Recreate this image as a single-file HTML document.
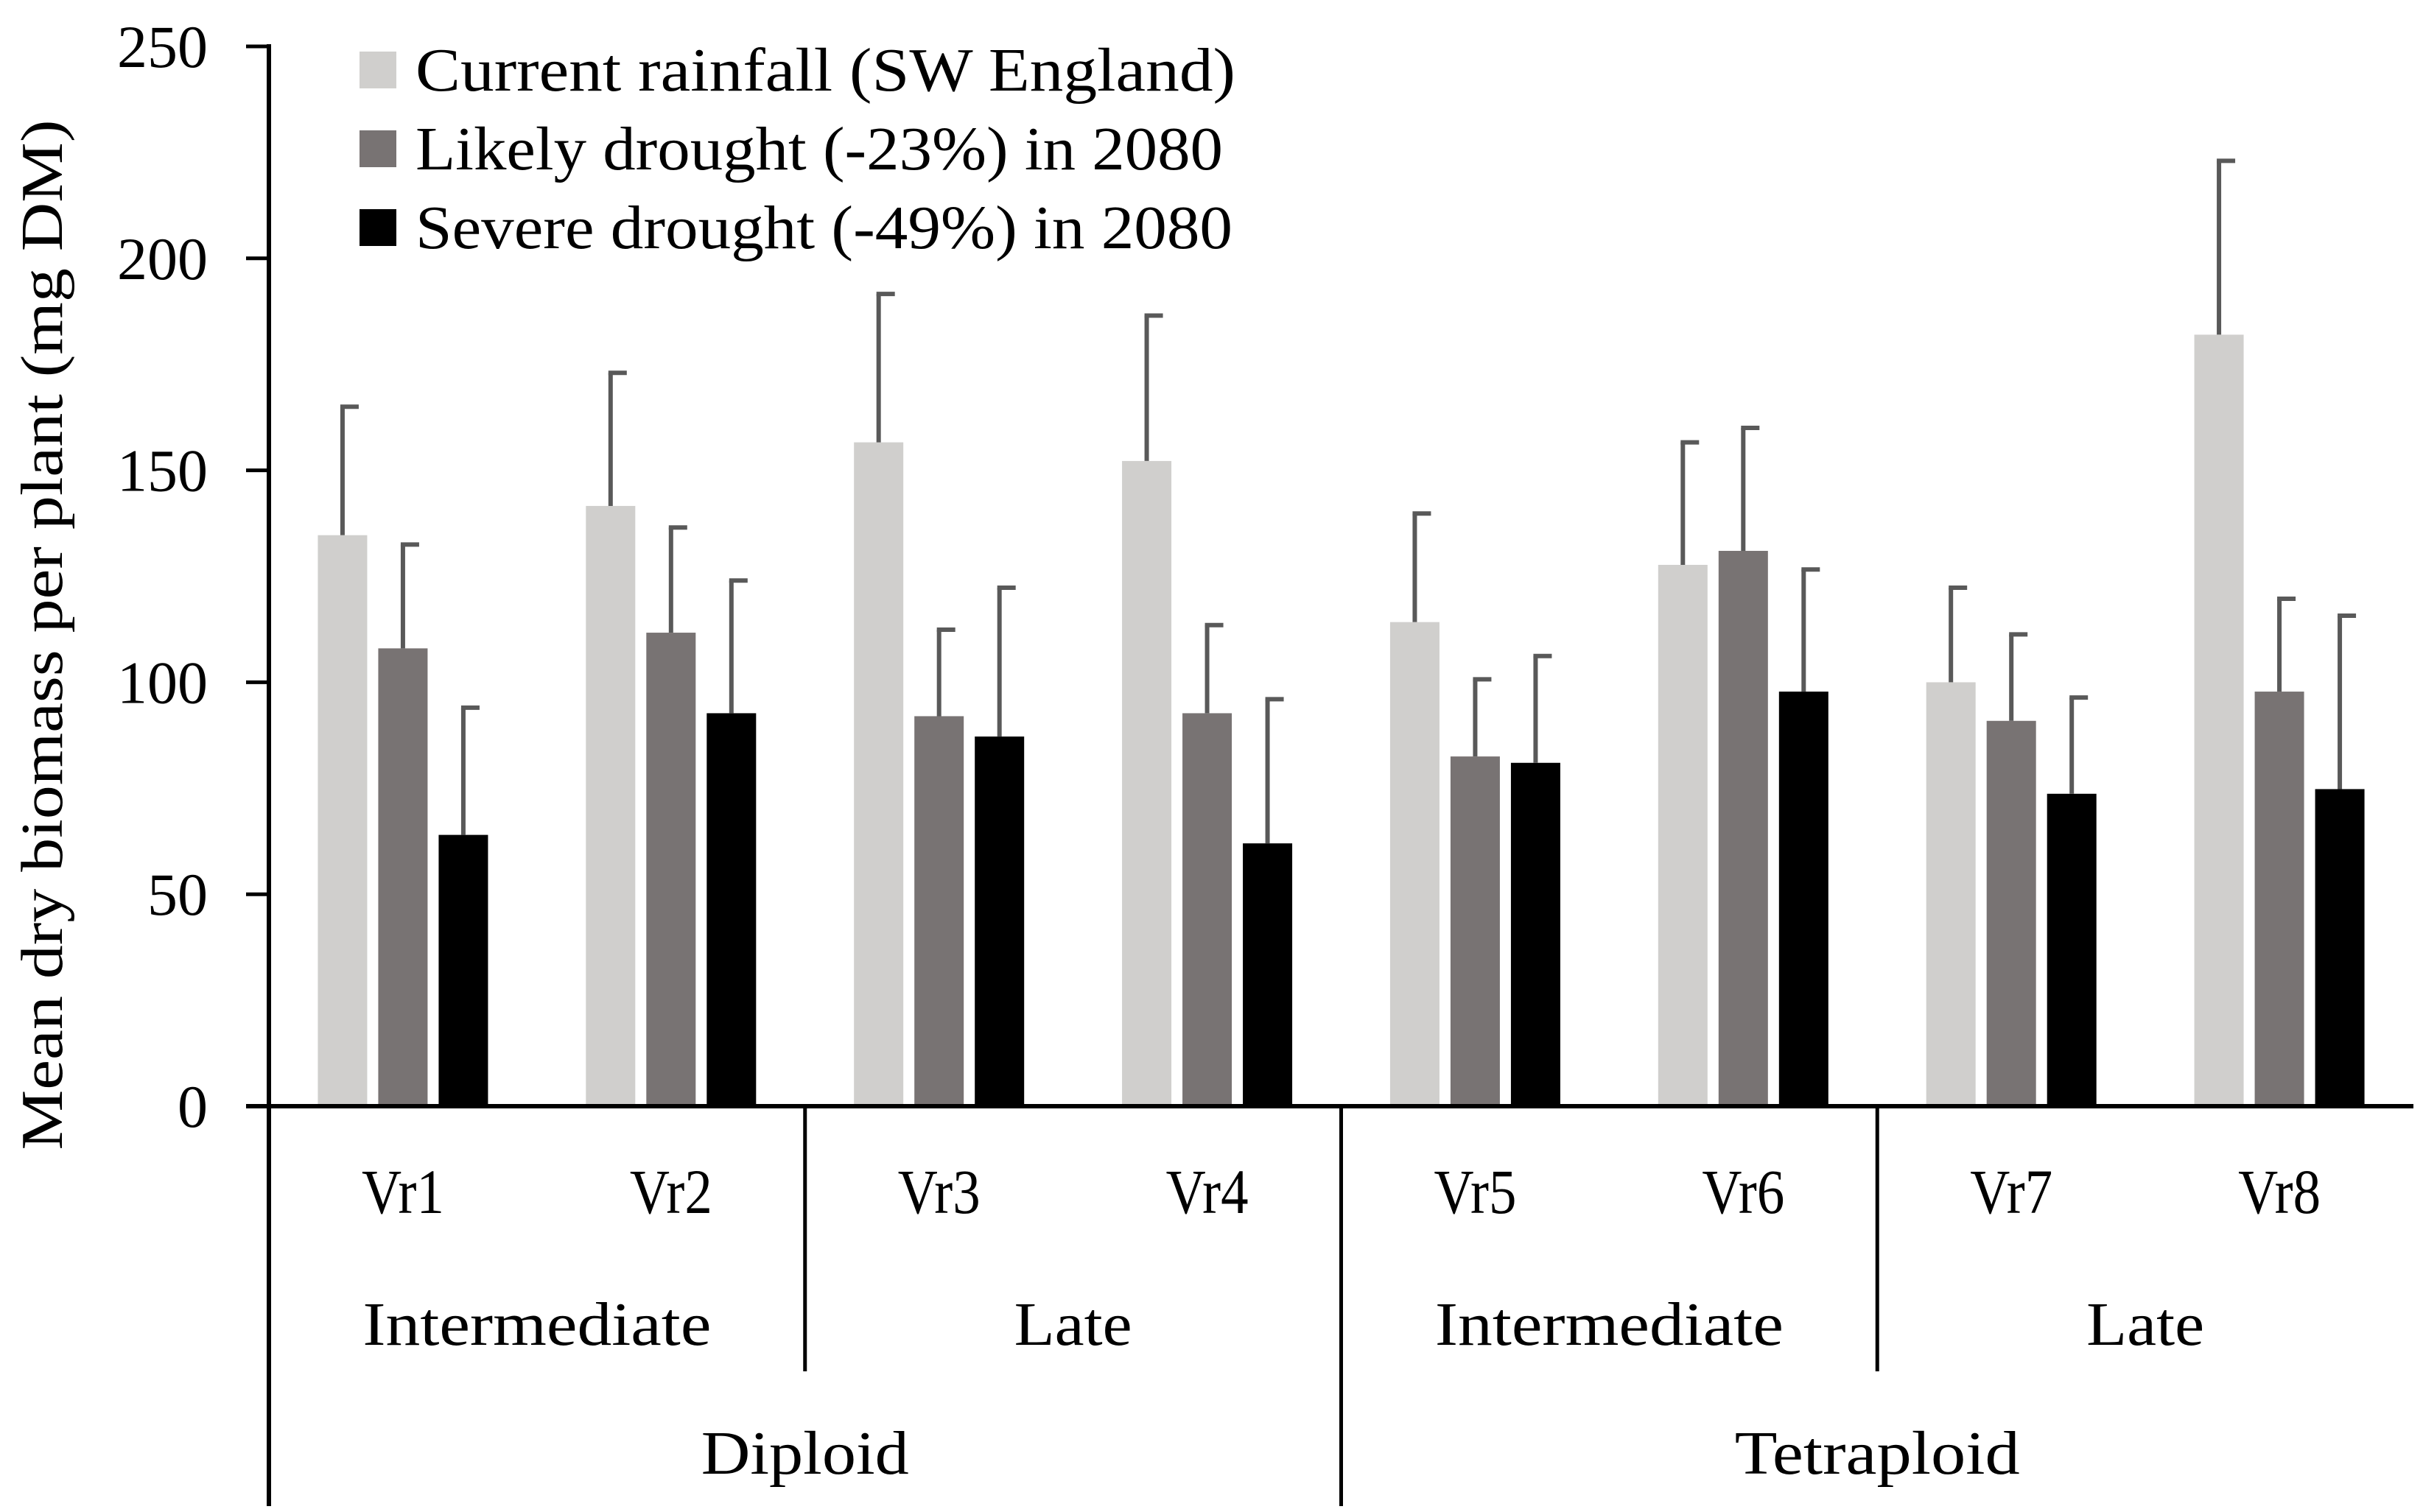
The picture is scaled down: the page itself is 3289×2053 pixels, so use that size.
<!DOCTYPE html>
<html><head><meta charset="utf-8"><style>
html,body{margin:0;padding:0;background:#fff}
svg{display:block}
text{font-family:"Liberation Serif",serif;fill:#000}
</style></head><body>
<svg id="chart" width="3289" height="2053" viewBox="0 0 3289 2053" xmlns="http://www.w3.org/2000/svg"></svg>
<script>
const categories = ["Vr1","Vr2","Vr3","Vr4","Vr5","Vr6","Vr7","Vr8"];
const subGroups = ["Intermediate","Late","Intermediate","Late"];
const ploidy = ["Diploid","Tetraploid"];
const seriesNames = ["Current rainfall (SW England)","Likely drought (-23%) in 2080","Severe drought (-49%) in 2080"];
const current = [134.7,141.6,156.6,152.2,114.2,127.7,100,182];
const currentErr = [165,173,191.6,186.5,139.8,156.6,122.3,223];
const likely = [108,111.7,92,92.7,82.5,131,90.9,97.8];
const likelyErr = [132.5,136.5,112.4,113.5,100.7,160,111.3,119.7];
const severe = [64,92.7,87.2,62,81,97.8,73.7,74.8];
const severeErr = [94,124,122.3,96,106.2,126.6,96.4,115.7];
const yTicks = [0,50,100,150,200,250];
const colors = ["#d0cfcd","#787373","#000000"];

const NS="http://www.w3.org/2000/svg";
const svg=document.getElementById('chart');
const X0=365, X1=3276, Y0=1502, Y250=63;
const catW=(X1-X0)/categories.length;
const y=v=>Y0-(v/250)*(Y0-Y250);
const cx=i=>X0+catW*(i+0.5);
function mk(tag,attrs,parent){const e=document.createElementNS(NS,tag);for(const k in attrs)e.setAttribute(k,attrs[k]);(parent||svg).appendChild(e);return e;}
function widthFor(str,perChar){return str.length*perChar;}

// y ticks
yTicks.forEach(t=>{
  const ln=mk('line',{x1:334,x2:X0,y1:y(t),y2:y(t),stroke:'#000','stroke-width':5});
  
  
  const tx=mk('text',{x:282,y:y(t)+28,'font-size':82,'text-anchor':'end',textLength:widthFor(String(t),41),lengthAdjust:'spacingAndGlyphs'});
  tx.textContent=t;
  
  
});
const yt=mk('text',{x:0,y:0,'font-size':80,'text-anchor':'middle',textLength:1399,lengthAdjust:'spacingAndGlyphs',transform:'translate(84,862) rotate(-90)'});
yt.textContent='Mean dry biomass per plant (mg DM)';



// bars
const vals=[current,likely,severe], errs=[currentErr,likelyErr,severeErr];
categories.forEach((c,i)=>{
  for(let s=0;s<3;s++){
    const bx=cx(i)+(s-1)*82-33.5;
    const r=mk('rect',{x:bx,y:y(vals[s][i]),width:67,height:Y0-y(vals[s][i]),fill:colors[s]});
    
    
    const mx=cx(i)+(s-1)*82;
    const el=mk('line',{x1:mx,x2:mx,y1:y(vals[s][i]),y2:y(errs[s][i]),stroke:'#595959','stroke-width':6});
    
    
    const cap=mk('line',{x1:mx-3,x2:mx+22,y1:y(errs[s][i]),y2:y(errs[s][i]),stroke:'#595959','stroke-width':6});
    
    
  }
  const lb=mk('text',{x:cx(i),y:1647,'font-size':86,'text-anchor':'middle',textLength:112,lengthAdjust:'spacingAndGlyphs'});
  lb.textContent=c;
  
  
});

// axes and separators
const xa=mk('line',{x1:334,x2:X1,y1:Y0,y2:Y0,stroke:'#000','stroke-width':6});


const ya=mk('line',{x1:X0,x2:X0,y1:Y250-3,y2:2045,stroke:'#000','stroke-width':6});


[[2,1862],[4,2045],[6,1862]].forEach(([k,yb])=>{
  const xs=X0+catW*k;
  const l=mk('line',{x1:xs,x2:xs,y1:Y0,y2:yb,stroke:'#000','stroke-width':5});
  
  
});
subGroups.forEach((g,j)=>{
  const t=mk('text',{x:X0+catW*(2*j+1),y:1826,'font-size':84,'text-anchor':'middle',textLength:g==='Late'?160:473,lengthAdjust:'spacingAndGlyphs'});
  t.textContent=g;
  
  
});
ploidy.forEach((p,j)=>{
  const t=mk('text',{x:X0+catW*(4*j+2),y:2001,'font-size':84,'text-anchor':'middle',textLength:p==='Diploid'?282:387,lengthAdjust:'spacingAndGlyphs'});
  t.textContent=p;
  
  
});

// legend
const legendLens=[1113,1096,1109];
seriesNames.forEach((n,s)=>{
  const cy=95+s*107;
  const sq=mk('rect',{x:488,y:cy-25,width:50,height:50,fill:colors[s]});
  
  
  const t=mk('text',{x:564,y:cy+28,'font-size':84,textLength:legendLens[s],lengthAdjust:'spacingAndGlyphs'});
  t.textContent=n;
  
  
});
</script>
</body></html>
